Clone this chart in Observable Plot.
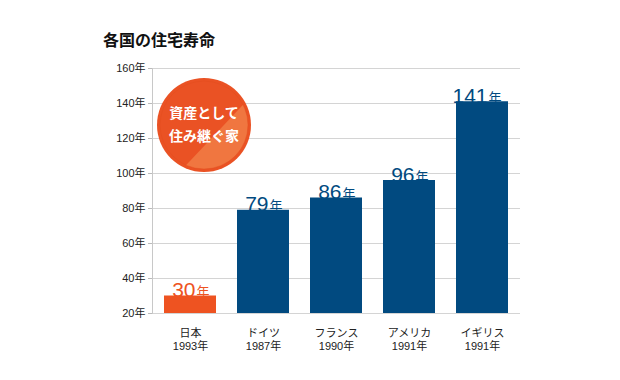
<!DOCTYPE html>
<html>
<head>
<meta charset="utf-8">
<script src="https://cdn.jsdelivr.net/npm/d3@7"></script>
<script src="https://cdn.jsdelivr.net/npm/@observablehq/plot@0.6"></script>
<style>
  html, body { margin: 0; padding: 0; background: #fff; }
  #chart { width: 620px; height: 380px; }
</style>
</head>
<body>
<div id="chart"></div>
<script>
const categories = ["日本", "ドイツ", "フランス", "アメリカ", "イギリス"];
const years = ["1993年", "1987年", "1990年", "1991年", "1991年"];
const values = [30, 79, 86, 96, 141];
const yTicks = [20, 40, 60, 80, 100, 120, 140, 160];
const titleText = "各国の住宅寿命";
const badgeLines = ["資産として", "住み継ぐ家"];

const ORANGE = "#EE5321";
const BLUE = "#014A80";
const fontFamily = "'Liberation Sans', 'Noto Sans CJK JP', sans-serif";

const data = categories.map((c, i) => ({ country: c, year: years[i], value: values[i] }));
const colorOf = d => d.country === "日本" ? ORANGE : BLUE;

const plot = Plot.plot({
  width: 620,
  height: 380,
  marginTop: 68,
  marginBottom: 67,
  marginLeft: 152,
  marginRight: 100,
  style: { fontFamily, background: "#fff", color: "#222" },
  x: { domain: categories, paddingInner: 0.29, paddingOuter: 0.14, axis: null, label: null },
  y: { domain: [20, 160], axis: null, label: null },
  marks: [
    Plot.gridY(yTicks, { stroke: "#d4d4d4", strokeOpacity: 1 }),
    Plot.frame({ anchor: "left", stroke: "#c8c8c8" }),
    Plot.axisY({ ticks: yTicks, tickFormat: d => d + "年", tickSize: 4, tickPadding: 3, fontSize: 11, stroke: "#bbb", fill: "#222", label: null }),
    Plot.axisX({
      tickSize: 0, tickPadding: 14, fontSize: 11, lineHeight: 1.2, fill: "#222", label: null,
      tickFormat: d => d + "\n" + years[categories.indexOf(d)]
    }),
    Plot.rectY(data, { x: "country", y1: () => 20, y2: "value", fill: colorOf }),
    Plot.text(data, { x: "country", y: "value", text: d => String(d.value), textAnchor: "end", lineAnchor: "bottom", dx: 5, dy: 1, fontSize: 21, fill: colorOf }),
    Plot.text(data, { x: "country", y: "value", text: () => "年", textAnchor: "start", lineAnchor: "bottom", dx: 6, dy: 0, fontSize: 13, fill: colorOf })
  ]
});

const svg = d3.select(plot);

// title
svg.append("text")
  .attr("x", 103).attr("y", 46)
  .attr("text-anchor", "start")
  .attr("font-family", fontFamily)
  .attr("font-size", 16).attr("font-weight", "bold").attr("fill", "#111")
  .text(titleText);

// badge
const cx = 204, cy = 125, r = 47;
const g = svg.append("g");
g.append("circle").attr("cx", cx).attr("cy", cy).attr("r", r).attr("fill", "#EA5224");
const clipId = "badgeClip";
svg.append("defs").append("clipPath").attr("id", clipId)
  .append("circle").attr("cx", cx).attr("cy", cy).attr("r", r - 3);
g.append("path")
  .attr("clip-path", `url(#${clipId})`)
  .attr("d", `M${cx + r + 5},${cy - r * 0.72} L${cx - r * 0.62},${cy + r + 5} L${cx + r + 5},${cy + r + 5} Z`)
  .attr("fill", "#F07640");
g.append("circle").attr("cx", cx).attr("cy", cy).attr("r", r - 3)
  .attr("fill", "none").attr("stroke", "#E04A1C").attr("stroke-width", 1).attr("stroke-opacity", 0.4);
badgeLines.forEach((t, i) => {
  g.append("text")
    .attr("x", cx).attr("y", 118 + i * 23)
    .attr("text-anchor", "middle")
    .attr("font-family", fontFamily)
    .attr("font-size", 14).attr("font-weight", "bold").attr("fill", "#fff")
    .text(t);
});

document.getElementById("chart").appendChild(plot);
</script>
</body>
</html>
